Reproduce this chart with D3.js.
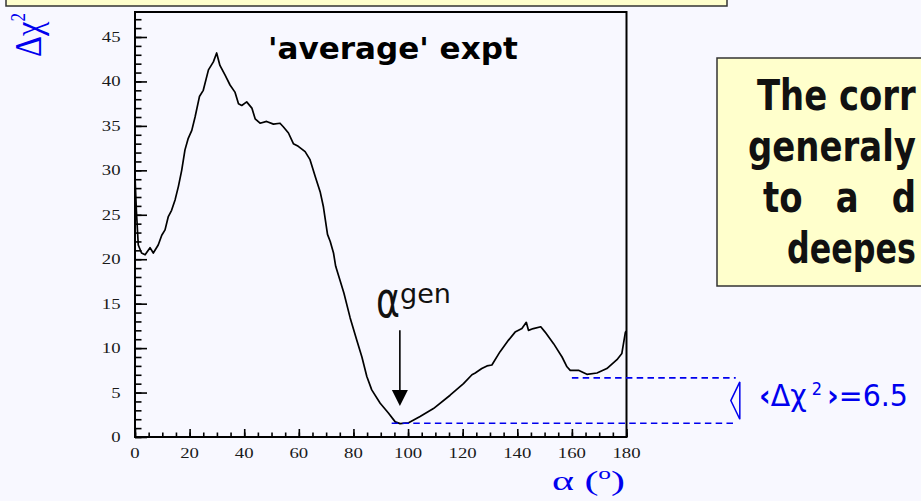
<!DOCTYPE html>
<html>
<head>
<meta charset="utf-8">
<script src="https://cdn.jsdelivr.net/npm/d3@7"></script>
<style>
  body { margin: 0; background: #f8f8ff; }
  svg { display: block; }
</style>
</head>
<body>
<div id="chart"></div>
<script>
// scan of delta chi2 vs alpha
var alpha = [0, 0.5, 1.2, 2.4, 3.7, 5.5, 6.7, 8.5, 9.8, 11, 12.2, 13.4, 14.7, 15.9, 17.1, 18.3, 19.5, 20.8,
    22, 23.6, 25, 26.9, 28.7, 29.9, 31.1, 33, 34.8, 36.6, 37.9, 39.1, 40.9, 42.8, 44, 45.8, 48.2, 50.7,
    53.1, 54.3, 56.2, 58, 59.8, 62.3, 64.1, 66, 67.8, 69, 70.5, 71.5, 72.7, 73.5, 75.1, 76.5, 78.8, 81.2,
    83.1, 84.9, 86.7, 89.8, 92.8, 95.3, 97.1, 100.2, 104.4, 109.3, 115.4, 120.3, 123.4, 124.6, 127, 128.9,
    130.7, 133.7, 136.8, 139.2, 141.7, 143.3, 144.1, 145.9, 148.6, 150.2, 153.3, 156.4, 158.2, 159.4,
    162.4, 165.5, 169.2, 172.8, 176.5, 178.3, 179.6, 180];
var dchi2 = [29.3, 25.5, 21.6, 20.7, 20.5, 21.3, 20.7, 21.6, 22.7, 23.3, 24.8, 25.5, 26.7, 28.2, 30.0, 32.3, 33.6, 34.5,
    36.0, 38.3, 39.0, 41.3, 42.2, 43.2, 41.8, 40.7, 39.6, 38.8, 37.5, 37.3, 37.7, 37.0, 35.8, 35.3, 35.5, 35.2,
    35.3, 34.9, 34.2, 33.0, 32.7, 32.1, 31.2, 29.3, 27.6, 25.9, 22.8, 22.0, 20.7, 19.2, 17.6, 16.2, 13.4, 10.9,
    9.0, 6.8, 5.3, 3.8, 2.7, 1.7, 1.5, 1.6, 2.3, 3.2, 4.7, 6.0, 7.0, 7.2, 7.7, 8.0,
    8.1, 9.6, 10.9, 11.8, 12.2, 12.9, 12.0, 12.2, 12.4, 11.8, 10.5, 9.0, 7.9, 7.5,
    7.5, 7.05, 7.2, 7.7, 8.7, 9.4, 11.8, 11.9];

var xTicks = [0, 20, 40, 60, 80, 100, 120, 140, 160, 180];
var yTicks = [0, 5, 10, 15, 20, 25, 30, 35, 40, 45];

// annotation values (data units)
var arrowAlpha = 97, arrowTop = 12, arrowTip = 3.5;
var minLevel = 1.55, meanLevel = 6.65;
// the note box runs off the slide, only these parts show
var boxLines = ["The corr", "generaly", "to a d", "deepes"];

var width = 921, height = 501;
var plot = { left: 135, right: 626.5, top: 12, bottom: 437 };
var blue = "#0000ee";

var svg = d3.select("#chart")
    .append("svg")
    .attr("width", width)
    .attr("height", height);

svg.append("rect")
    .attr("width", width).attr("height", height)
    .attr("fill", "#f8f8ff");

var x = d3.scaleLinear().domain([0, 180]).range([plot.left, plot.right]);
var y = d3.scaleLinear().domain([0, 45]).range([plot.bottom, 37]);

// stretch text horizontally so it spans w pixels
function fitText(sel, w) {
    var bw = sel.node().getBBox().width;
    sel.attr("transform", sel.attr("transform") + " scale(" + (w / bw) + ",1)");
    return sel;
}

// top yellow strip (bottom edge of a box above)
svg.append("rect")
    .attr("x", 6).attr("y", -10)
    .attr("width", 721).attr("height", 16)
    .attr("fill", "#ffffcc")
    .attr("stroke", "#333").attr("stroke-width", 1.5);

// minor ticks first, then majors
svg.append("g")
    .attr("transform", "translate(" + plot.left + ",0)")
    .call(d3.axisRight(y).tickValues(d3.range(0, 48, 1)).tickSize(6.5).tickFormat(""))
    .call(g => g.select(".domain").remove());
svg.append("g")
    .attr("transform", "translate(" + plot.left + ",0)")
    .call(d3.axisRight(y).tickValues(yTicks).tickSize(12).tickFormat(""))
    .call(g => g.select(".domain").remove());
svg.append("g")
    .attr("transform", "translate(0," + plot.bottom + ")")
    .call(d3.axisTop(x).tickValues(d3.range(0, 181, 5)).tickSize(4.5).tickFormat(""))
    .call(g => g.select(".domain").remove());
svg.append("g")
    .attr("transform", "translate(0," + plot.bottom + ")")
    .call(d3.axisTop(x).tickValues(xTicks).tickSize(8).tickFormat(""))
    .call(g => g.select(".domain").remove());
svg.selectAll(".tick line").attr("stroke", "#000").attr("stroke-width", 1.6);

// tick labels
yTicks.forEach(function (v) {
    svg.append("text")
        .attr("transform", "translate(120.5," + (y(v) + 5) + ") scale(1.25,1)")
        .attr("text-anchor", "end")
        .style("font-family", "'Liberation Serif', 'Times New Roman', serif")
        .style("font-size", "15px")
        .attr("fill", "#1a1a1a")
        .text(v);
});
xTicks.forEach(function (v) {
    svg.append("text")
        .attr("transform", "translate(" + x(v) + ",458) scale(1.25,1)")
        .attr("text-anchor", "middle")
        .style("font-family", "'Liberation Serif', 'Times New Roman', serif")
        .style("font-size", "15px")
        .attr("fill", "#1a1a1a")
        .text(v);
});

// the curve
var line = d3.line()
    .x(function (d, i) { return x(alpha[i]); })
    .y(function (d) { return y(d); });
svg.append("path")
    .datum(dchi2)
    .attr("d", line)
    .attr("fill", "none")
    .attr("stroke", "#000")
    .attr("stroke-width", 1.7)
    .attr("stroke-linejoin", "round");

// frame
svg.append("rect")
    .attr("x", plot.left).attr("y", plot.top)
    .attr("width", plot.right - plot.left).attr("height", plot.bottom - plot.top)
    .attr("fill", "none")
    .attr("stroke", "#000").attr("stroke-width", 2);

// dashed levels
svg.append("line")
    .attr("x1", x(94)).attr("x2", x(220))
    .attr("y1", y(minLevel)).attr("y2", y(minLevel))
    .attr("stroke", blue).attr("stroke-width", 1.6).attr("stroke-dasharray", "6.5,4.3");
svg.append("line")
    .attr("x1", x(160)).attr("x2", x(220))
    .attr("y1", y(meanLevel)).attr("y2", y(meanLevel))
    .attr("stroke", blue).attr("stroke-width", 1.6).attr("stroke-dasharray", "6.5,4.3");

// little bracket between the levels
var bx = x(221.5);
svg.append("path")
    .attr("d", "M" + bx + "," + (y(meanLevel) + 4) + " L" + (bx - 9) + "," + ((y(meanLevel) + y(minLevel)) / 2) +
        " L" + bx + "," + (y(minLevel) - 4) + " Z")
    .attr("fill", "none")
    .attr("stroke", blue).attr("stroke-width", 1.5);

var meanLabel = svg.append("text")
    .attr("transform", "translate(759,406)")
    .style("font-family", "'DejaVu Sans', sans-serif")
    .style("font-size", "30px")
    .attr("fill", blue);
meanLabel.append("tspan").style("font-weight", "bold").text("‹");
meanLabel.append("tspan").text("Δχ");
meanLabel.append("tspan").attr("dy", -11).style("font-size", "17px").text(" 2 ");
meanLabel.append("tspan").attr("dy", 11).style("font-weight", "bold").text("›");
meanLabel.append("tspan").text("=6.5");
fitText(meanLabel, 149);

// arrow to generated alpha
svg.append("line")
    .attr("x1", x(arrowAlpha)).attr("x2", x(arrowAlpha))
    .attr("y1", y(arrowTop)).attr("y2", y(arrowTip) - 14)
    .attr("stroke", "#000").attr("stroke-width", 1.6);
svg.append("path")
    .attr("d", "M" + (x(arrowAlpha) - 8) + "," + (y(arrowTip) - 16) + " L" + (x(arrowAlpha) + 8) + "," +
        (y(arrowTip) - 16) + " L" + x(arrowAlpha) + "," + y(arrowTip) + " Z")
    .attr("fill", "#000");

var aGen = svg.append("text")
    .attr("transform", "translate(376,316.5)")
    .style("font-family", "'DejaVu Sans', sans-serif")
    .style("font-size", "50px")
    .attr("fill", "#111")
    .text("α");
fitText(aGen, 24);
var gen = svg.append("text")
    .attr("transform", "translate(400,303)")
    .style("font-family", "'DejaVu Sans', sans-serif")
    .style("font-size", "27px")
    .attr("fill", "#111")
    .text("gen");
fitText(gen, 51);

// title
var title = svg.append("text")
    .attr("transform", "translate(268,59)")
    .style("font-family", "'DejaVu Sans', sans-serif")
    .style("font-weight", "bold")
    .style("font-size", "31px")
    .attr("fill", "#000")
    .text("'average' expt");
fitText(title, 250);

// axis titles
var xLab = svg.append("text")
    .attr("transform", "translate(552,490)")
    .style("font-family", "'Liberation Serif', 'Times New Roman', serif")
    .style("font-size", "28px")
    .attr("fill", blue);
xLab.append("tspan").text("α (");
xLab.append("tspan").attr("dy", -11).style("font-size", "17px").text("o");
xLab.append("tspan").attr("dy", 11).text(")");
fitText(xLab, 73);

var yLab = svg.append("text")
    .attr("transform", "translate(41,57) rotate(-90)")
    .style("font-family", "'Liberation Serif', 'Times New Roman', serif")
    .style("font-size", "38px")
    .attr("fill", blue);
yLab.append("tspan").text("Δχ");
yLab.append("tspan").attr("dy", -16).style("font-size", "20px").text("2");
fitText(yLab, 44);

// yellow note box on the right (runs off the page)
svg.append("rect")
    .attr("x", 717).attr("y", 58)
    .attr("width", 240).attr("height", 228)
    .attr("fill", "#ffffcc")
    .attr("stroke", "#333").attr("stroke-width", 1.5);

var lineX = [757, 748, 763, 787];
var boxText = boxLines.map(function (t, i) {
    return svg.append("text")
        .attr("transform", "translate(" + lineX[i] + "," + (110 + i * 51) + ")")
        .style("font-family", "'DejaVu Sans', sans-serif")
        .style("font-weight", "bold")
        .style("font-size", "42px")
        .attr("fill", "#111")
        .text(t);
});
// one squeeze for all lines, from "generaly" which ends at the page edge;
// lines with spaces get wider word gaps so they also reach the edge
var sq = (916 - lineX[1]) / boxText[1].node().getBBox().width;
boxText.forEach(function (t, i) {
    var room = 916 - lineX[i];
    var nSp = boxLines[i].split(" ").length - 1;
    var s = sq;
    if (nSp > 0) {
        var gap = (room / sq - t.node().getBBox().width) / nSp;
        t.style("word-spacing", Math.max(0, gap) + "px");
    }
    s = Math.min(sq, room / t.node().getBBox().width);
    t.attr("transform", t.attr("transform") + " scale(" + s + ",1)");
});
</script>
</body>
</html>
